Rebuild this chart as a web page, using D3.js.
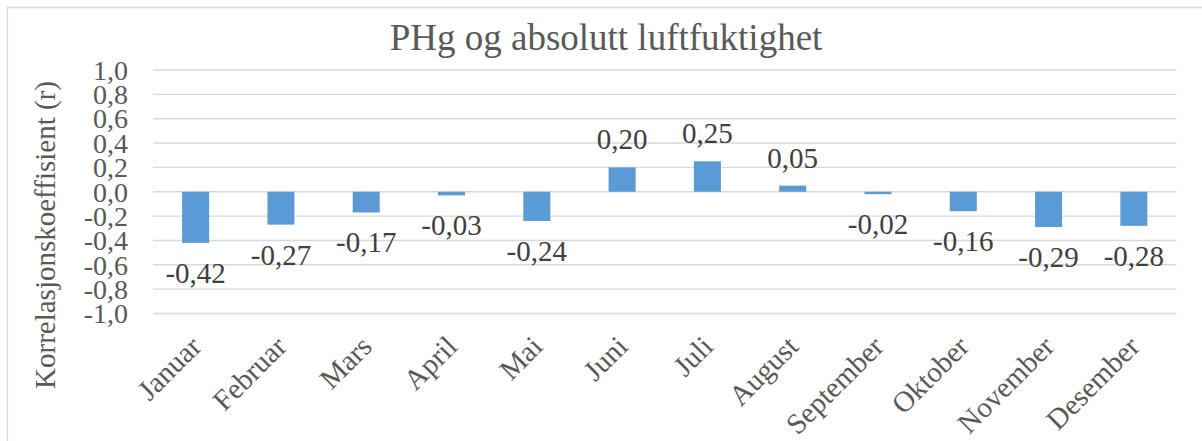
<!DOCTYPE html>
<html><head><meta charset="utf-8">
<script src="https://cdn.jsdelivr.net/npm/d3@7"></script>
</head>
<body style="margin:0;background:#fff">
<svg id="chart" width="1202" height="441" style="display:block"></svg>
<script>
const categories = ["Januar","Februar","Mars","April","Mai","Juni","Juli","August","September","Oktober","November","Desember"];
const values = [-0.42,-0.27,-0.17,-0.03,-0.24,0.20,0.25,0.05,-0.02,-0.16,-0.29,-0.28];
const yTicks = [1.0,0.8,0.6,0.4,0.2,0.0,-0.2,-0.4,-0.6,-0.8,-1.0];
const title = "PHg og absolutt luftfuktighet";
const yTitle = "Korrelasjonskoeffisient (r)";

const FONT = '"Liberation Serif"';
const TXT = "#595959";
const svg = d3.select("#chart");
const W = 1202, H = 441;
const plot = {left:153, right:1176.5, top:70, bottom:313.5};
const fmt = v => d3.format(".2f")(v).replace(".", ",").replace("−","-");
const fmt1 = v => d3.format(".1f")(v).replace(".", ",").replace("−","-");

// chart border
svg.append("path").attr("d", `M7.5,${H} L7.5,7.5 L${W},7.5`)
  .attr("fill","none").attr("stroke","#D9D9D9").attr("stroke-width",1.3);

const x = d3.scaleBand().domain(categories).range([plot.left, plot.right]).paddingInner(0.683).paddingOuter(0.3415);
const y = d3.scaleLinear().domain([-1,1]).range([plot.bottom, plot.top]);

// gridlines
svg.append("g").selectAll("line").data(yTicks).join("line")
  .attr("x1", plot.left).attr("x2", plot.right)
  .attr("y1", d=>y(d)).attr("y2", d=>y(d))
  .attr("stroke","#D9D9D9").attr("stroke-width",1.4);

// y axis labels
const yAxis = d3.axisLeft(y).tickValues(yTicks).tickFormat(fmt1).tickSize(0).tickPadding(0);
const gy = svg.append("g").attr("transform",`translate(128,0)`).call(yAxis);
gy.select(".domain").remove();
gy.selectAll("text")
  .style("font-family",FONT).style("font-size","28px").style("fill",TXT)
  .attr("dy","0.33em");

// bars
svg.append("g").selectAll("rect").data(values).join("rect")
  .attr("x",(d,i)=>x(categories[i]))
  .attr("width", x.bandwidth())
  .attr("y", d=>y(Math.max(0,d)))
  .attr("height", d=>Math.abs(y(d)-y(0)))
  .attr("fill","#5B9BD5");

// data labels
svg.append("g").selectAll("text").data(values).join("text")
  .attr("x",(d,i)=>x(categories[i])+x.bandwidth()/2)
  .attr("y", d=> d>=0 ? y(d)-18 : y(d)+40)
  .attr("text-anchor","middle")
  .style("font-family",FONT).style("font-size","29px").style("fill","#404040")
  .text(d=>fmt(d));

// category labels
svg.append("g").selectAll("text").data(categories).join("text")
  .attr("transform",(d)=>`translate(${x(d)+x.bandwidth()/2-7},334) rotate(-45)`)
  .attr("text-anchor","end")
  .attr("dy","0.7em")
  .style("font-family",FONT).style("font-size","29px").style("fill",TXT)
  .text(d=>d);

// title
svg.append("text").attr("x",606).attr("y",50)
  .attr("text-anchor","middle")
  .style("font-family",FONT).style("font-size","37px").style("fill",TXT)
  .text(title);

// y title
svg.append("text").attr("transform","translate(55,235) rotate(-90)")
  .attr("text-anchor","middle")
  .style("font-family",FONT).style("font-size","29px").style("fill",TXT)
  .text(yTitle);
</script>
</body></html>
